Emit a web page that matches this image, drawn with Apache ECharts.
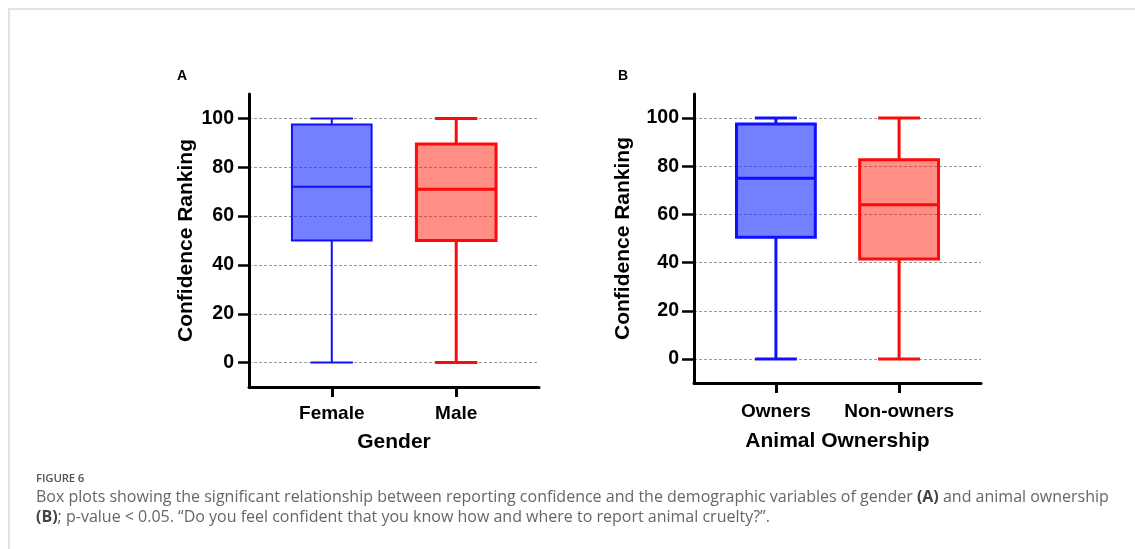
<!DOCTYPE html>
<html>
<head>
<meta charset="utf-8">
<script src="https://cdn.jsdelivr.net/npm/echarts@6/dist/echarts.min.js"></script>
<style>
  html, body { margin: 0; padding: 0; background: #fff; }
  #wrap { position: relative; width: 1135px; height: 549px; overflow: hidden; }
  #chart { position: absolute; left: 0; top: 0; width: 1135px; height: 549px; }
  #frame { position: absolute; left: 8px; top: 8px; right: -10px; bottom: -10px;
           border-top: 2px solid #e3e3e3; border-left: 2px solid #e3e3e3; pointer-events: none; }
  #fig { position: absolute; left: 36px; top: 470px; font-family: "Open Sans", sans-serif;
         font-size: 11.5px; font-weight: 600; color: #555; letter-spacing: -0.2px; }
  #cap { position: absolute; left: 36px; top: 487px; width: 1095px; font-family: "Open Sans", sans-serif;
         font-size: 16px; line-height: 19.5px; color: #666; white-space: nowrap; }
  #cap b { color: #444; }
</style>
</head>
<body>
<div id="wrap">
  <div id="frame"></div>
  <div id="chart"></div>
  <div id="fig">FIGURE 6</div>
  <div id="cap">Box plots showing the significant relationship between reporting confidence and the demographic variables of gender <b>(A)</b> and animal ownership<br><b>(B)</b>; p-value &lt; 0.05. “Do you feel confident that you know how and where to report animal cruelty?”.</div>
</div>
<script>
// ---- data ----
const panelACategories = ['Female', 'Male'];
// [min, Q1, median, Q3, max]
const femaleStats = [0, 50, 72, 97.5, 100];
const maleStats = [0, 50, 71, 89.5, 100];

const panelBCategories = ['Owners', 'Non-owners'];
const ownersStats = [0, 50.5, 75, 97.5, 100];
const nonOwnersStats = [0, 41.5, 64, 82.7, 100];

const yTickValues = [0, 20, 40, 60, 80, 100];
const xTickValues = [1, 2];

const panelAXName = 'Gender';
const panelBXName = 'Animal Ownership';
const yName = 'Confidence Ranking';

// ---- styling (not data) ----
const BOX_W = 0.64;   // in x-axis units
const CAP_W = 0.34;
const strokeColors = ['#1010ff', '#ff0a0a'];
const fillColors = ['rgba(30,50,255,0.62)', 'rgba(255,20,0,0.48)'];

function makeRender(lineWidths) {
  return function (params, api) {
    const x = api.value(0);
    const pMin = api.coord([x, api.value(1)]);
    const pQ1 = api.coord([x, api.value(2)]);
    const pMed = api.coord([x, api.value(3)]);
    const pQ3 = api.coord([x, api.value(4)]);
    const pMax = api.coord([x, api.value(5)]);
    const cx = pMed[0];
    const half = api.size([BOX_W, 0])[0] / 2;
    const capHalf = api.size([CAP_W, 0])[0] / 2;
    const i = params.dataIndex;
    const lw = lineWidths[i];
    const st = { stroke: strokeColors[i], lineWidth: lw, fill: null };
    return {
      type: 'group',
      children: [
        { type: 'line', shape: { x1: cx, y1: pQ3[1], x2: cx, y2: pMax[1] }, style: st },
        { type: 'line', shape: { x1: cx, y1: pQ1[1], x2: cx, y2: pMin[1] }, style: st },
        { type: 'line', shape: { x1: cx - capHalf, y1: pMax[1], x2: cx + capHalf, y2: pMax[1] }, style: st },
        { type: 'line', shape: { x1: cx - capHalf, y1: pMin[1], x2: cx + capHalf, y2: pMin[1] }, style: st },
        { type: 'rect', shape: { x: cx - half, y: pQ3[1], width: 2 * half, height: pQ1[1] - pQ3[1] },
          style: { fill: fillColors[i], stroke: strokeColors[i], lineWidth: lw } },
        { type: 'line', shape: { x1: cx - half, y1: pMed[1], x2: cx + half, y2: pMed[1] }, style: st }
      ]
    };
  };
}

const font = 'Liberation Sans, Arial, sans-serif';

function xAxis(gridIndex, cats, name, labelMargin, nameGap) {
  return {
    type: 'value', gridIndex, min: 0.335, max: 2.665,
    name, nameLocation: 'middle', nameGap,
    nameTextStyle: { fontFamily: font, fontWeight: 'bold', fontSize: 21, color: '#000' },
    axisLine: { show: true, onZero: false, lineStyle: { color: '#000', width: 3 } },
    axisTick: { show: true, customValues: xTickValues, length: 10, lineStyle: { color: '#000', width: 3 } },
    axisLabel: { customValues: xTickValues, margin: labelMargin, fontFamily: font, fontWeight: 'bold',
                 fontSize: 19, color: '#000', formatter: v => cats[Math.round(v) - 1] },
    splitLine: { show: false }
  };
}

function yAxis(gridIndex, nameGap, tickLen) {
  return {
    type: 'value', gridIndex, min: -10, max: 110,
    name: yName, nameLocation: 'middle', nameGap,
    nameTextStyle: { fontFamily: font, fontWeight: 'bold', fontSize: 21, color: '#000' },
    axisLine: { show: true, onZero: false, lineStyle: { color: '#000', width: 3 } },
    axisTick: { show: true, customValues: yTickValues, length: tickLen, lineStyle: { color: '#000', width: 2.5 } },
    axisLabel: { customValues: yTickValues, margin: 15, fontFamily: font, fontWeight: 'bold', fontSize: 19.5, color: '#000' },
    splitLine: { show: true, lineStyle: { color: '#9a9a9a', width: 1, type: [3, 2] } }
  };
}

const chart = echarts.init(document.getElementById('chart'), null, { renderer: 'canvas' });
chart.setOption({
  animation: false,
  backgroundColor: 'transparent',
  grid: [
    { left: 249, top: 94, width: 290, height: 293, outerBoundsMode: 'none' },
    { left: 694, top: 94, width: 287, height: 289, outerBoundsMode: 'none' }
  ],
  xAxis: [
    xAxis(0, panelACategories, panelAXName, 17, 45),
    xAxis(1, panelBCategories, panelBXName, 19, 48)
  ],
  yAxis: [
    yAxis(0, 52, 11),
    yAxis(1, 60, 12)
  ],
  graphic: [
    { type: 'text', left: 177, top: 69, style: { text: 'A', font: 'bold 14px ' + font, fill: '#000' } },
    { type: 'text', left: 618, top: 69, style: { text: 'B', font: 'bold 14px ' + font, fill: '#000' } }
  ],
  series: [
    {
      type: 'custom', xAxisIndex: 0, yAxisIndex: 0,
      renderItem: makeRender([2, 3]),
      encode: { x: 0, y: [1, 2, 3, 4, 5] },
      data: [[1].concat(femaleStats), [2].concat(maleStats)]
    },
    {
      type: 'custom', xAxisIndex: 1, yAxisIndex: 1,
      renderItem: makeRender([3, 3]),
      encode: { x: 0, y: [1, 2, 3, 4, 5] },
      data: [[1].concat(ownersStats), [2].concat(nonOwnersStats)]
    }
  ]
});
</script>
</body>
</html>
